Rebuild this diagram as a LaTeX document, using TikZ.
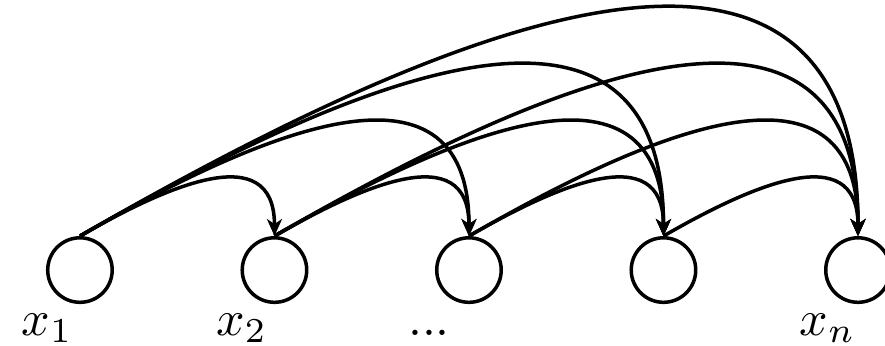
\documentclass[tikz,border=0pt]{standalone}
\usepackage{tikz}
\usetikzlibrary{arrows.meta,positioning,calc}

\tikzset{
  var/.style={circle,draw,minimum size=12.9pt,inner sep=0pt},
  lbl/.style={anchor=base west,inner sep=0pt},
  arr/.style={-{Stealth[length=3.4pt,width=3pt,inset=1pt]}},
  jump/.style={out=30,in=90,looseness=1.3}
}

\begin{document}
\begin{tikzpicture}[line width=0.7pt]
\useasboundingbox (0,0) rectangle (6.22,2.425);

% variables
\node[var] (x1) at (0.562,0.527) {};
\node[var] (x2) at (1.929,0.527) {};
\node[var] (x3) at (3.296,0.527) {};
\node[var] (x4) at (4.663,0.527) {};
\node[var] (x5) at (6.030,0.527) {};

\node[lbl] (l1) at ($(x1)+(-0.422,-0.457)$) {$x_1$};
\node[lbl] (l2) at ($(x2)+(-0.422,-0.457)$) {$x_2$};
\node[lbl] (l3) at ($(x3)+(-0.44,-0.457)$) {...};
\node[lbl] (l5) at ($(x5)+(-0.422,-0.457)$) {$x_n$};

% dependencies
\draw[arr] (x1.north) to[jump] (x2.north);
\draw[arr] (x1.north) to[jump] (x3.north);
\draw[arr] (x1.north) to[jump] (x4.north);
\draw[arr] (x1.north) to[jump] (x5.north);
\draw[arr] (x2.north) to[jump] (x3.north);
\draw[arr] (x2.north) to[jump] (x4.north);
\draw[arr] (x2.north) to[jump] (x5.north);
\draw[arr] (x3.north) to[jump] (x4.north);
\draw[arr] (x3.north) to[jump] (x5.north);
\draw[arr] (x4.north) to[jump] (x5.north);
\end{tikzpicture}
\end{document}
